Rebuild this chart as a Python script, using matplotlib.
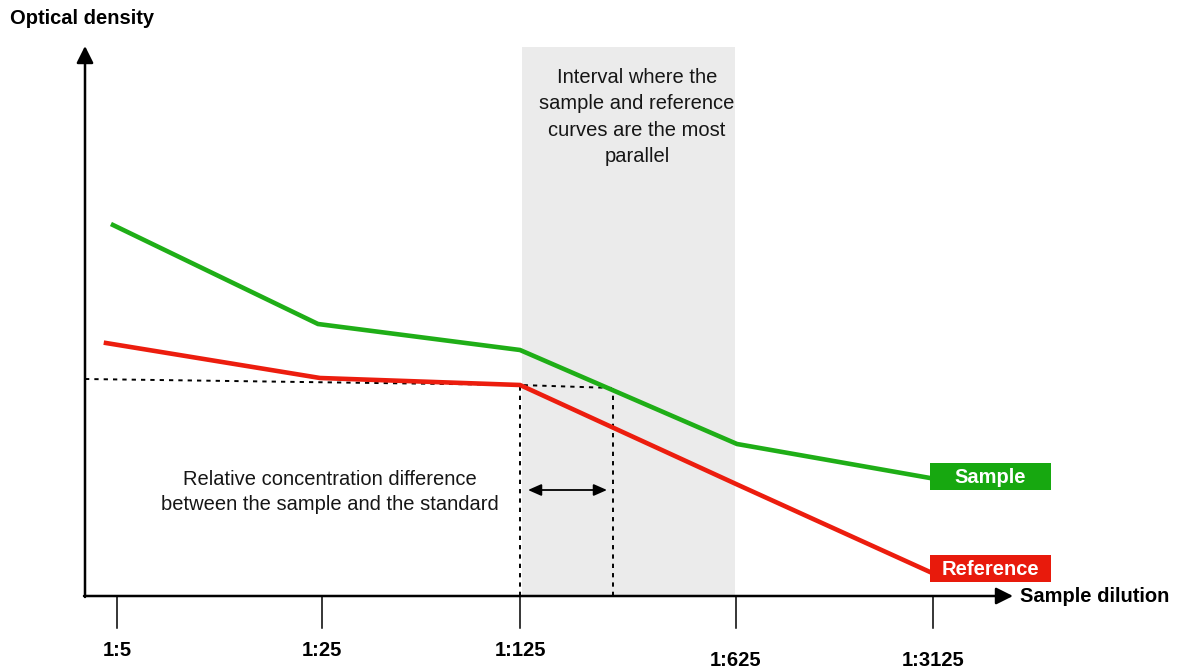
import matplotlib

matplotlib.use("Agg")
import matplotlib.pyplot as plt
from matplotlib.patches import Rectangle

plt.rcParams["font.family"] = ["Liberation Sans", "DejaVu Sans"]

# ── data (x: position along the dilution axis, y: optical density, schematic units) ──
dilutions = ["1:5", "1:25", "1:125", "1:625", "1:3125"]
dilution_x = [32, 237, 435, 651, 848]

sample_x = [28, 233, 435, 652, 845]
sample_od = [371, 272, 246, 152, 118]

reference_x = [21, 235, 435, 651, 845]
reference_od = [253, 218, 211, 112, 24]

# dotted guide: level of the reference at 1:125, carried over to the sample curve
guide_x = [0, 435, 528]
guide_od = [217, 211, 208]

# interval where the curves are most parallel
interval = (437, 650)

GREEN, RED = "#1fae17", "#ec1d0e"
BOX_GREEN, BOX_RED = "#17a810", "#e81a0c"
SHADE = "#ebebeb"
INK = "#161616"

fig = plt.figure(figsize=(11.78, 6.70), dpi=100)
ax = fig.add_axes([0, 0, 1, 1])
ax.set_xlim(-85, 1093)
ax.set_ylim(-74, 596)
ax.axis("off")

# shaded interval
ax.add_patch(Rectangle((interval[0], 0), interval[1] - interval[0], 549,
                       facecolor=SHADE, edgecolor="none", zorder=0))

# axes with arrows
arrow = dict(arrowstyle="-|>,head_length=0.6,head_width=0.3", lw=1.8,
             color="black", mutation_scale=17, shrinkA=0, shrinkB=0)
ax.annotate("", xy=(0, 550), xytext=(0, -1), arrowprops=arrow, zorder=5)
ax.annotate("", xy=(928, 0), xytext=(-1, 0), arrowprops=arrow, zorder=5)

# ticks and labels
for i, (x, lab) in enumerate(zip(dilution_x, dilutions)):
    ax.plot([x, x], [0, -32], color="black", lw=1.1, zorder=4)
    ty = -54 if i < 3 else -65
    ax.text(x, ty, lab, ha="center", va="center", fontsize=14.5, fontweight="bold")

ax.text(-75, 578, "Optical density", ha="left", va="center", fontsize=14.5, fontweight="bold")
ax.text(935, -1, "Sample dilution", ha="left", va="center", fontsize=14.5, fontweight="bold")

# dotted guides
dot = dict(color="black", lw=1.4, ls=(0, (2.2, 2.6)), zorder=3)
ax.plot(guide_x, guide_od, **dot)
ax.plot([guide_x[1], guide_x[1]], [0, guide_od[1]], **dot)
ax.plot([guide_x[2], guide_x[2]], [0, guide_od[2]], **dot)

# curves
ax.plot(sample_x, sample_od, color=GREEN, lw=3.3, solid_joinstyle="miter", zorder=4)
ax.plot(reference_x, reference_od, color=RED, lw=3.3, solid_joinstyle="miter", zorder=4)

# double arrow for the concentration difference
ax.annotate("", xy=(522, 106), xytext=(443, 106),
            arrowprops=dict(arrowstyle="<|-|>,head_length=0.5,head_width=0.22", lw=1.3,
                            color="black", mutation_scale=16, shrinkA=0, shrinkB=0))

ax.text(245, 104, "Relative concentration difference\nbetween the sample and the standard",
        ha="center", va="center", fontsize=14.5, linespacing=1.4, color=INK)
ax.text(552, 479, "Interval where the\nsample and reference\ncurves are the most\nparallel",
        ha="center", va="center", fontsize=14.5, linespacing=1.5, color=INK)

# series labels
for y0, lab, col in [(106, "Sample", BOX_GREEN), (14, "Reference", BOX_RED)]:
    ax.add_patch(Rectangle((845, y0), 121, 27, facecolor=col, edgecolor="none", zorder=5))
    ax.text(845 + 60.5, y0 + 12.5, lab, ha="center", va="center", color="white",
            fontsize=14.5, fontweight="bold", zorder=6)

fig.savefig("out.png", dpi=100, facecolor="white")
